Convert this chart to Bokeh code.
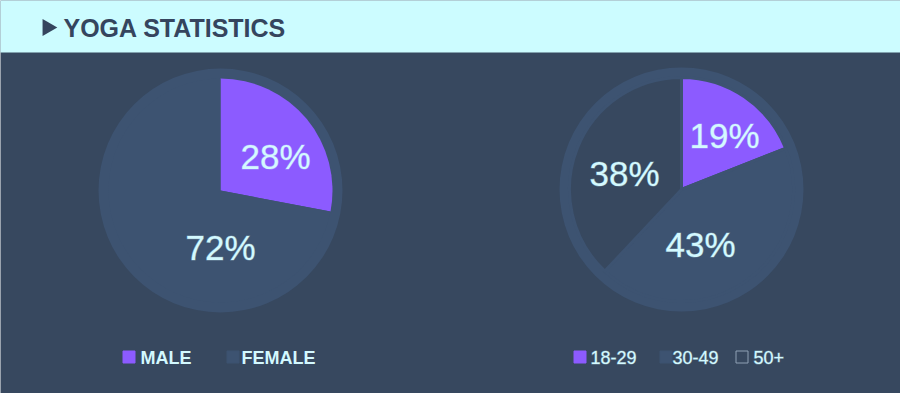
import math
from bokeh.plotting import figure
from bokeh.models import Range1d
from bokeh.core.properties import value
from bokeh.embed import file_html
from bokeh.resources import INLINE

# ---------------- data ----------------
title = "YOGA STATISTICS"
gender_labels = ["MALE", "FEMALE"]
gender_values = [28, 72]
age_labels = ["18-29", "30-49", "50+"]
age_values = [19, 43, 38]

# ---------------- style ----------------
W, H = 900, 393
BG = "#37485f"
RING = "#3d5371"
PURPLE = "#8c5bff"
HEADER = "#ccfcff"
TITLE_C = "#35455e"
TEXT_C = "#d3f9ff"
TEXT_HALO = "rgba(211,249,255,0.35)"
FONT = "Liberation Sans"

gender_colors = [PURPLE, RING]
age_colors = [PURPLE, RING, BG]
age_legend_lines = [PURPLE, RING, "#8fa0b5"]

p = figure(width=W, height=H, output_backend="svg", toolbar_location=None,
           x_range=Range1d(0, W), y_range=Range1d(0, H),
           x_axis_location=None, y_axis_location=None, min_border=0)
p.background_fill_color = BG
p.border_fill_color = BG
p.outline_line_color = None
p.outline_line_alpha = 0
p.grid.visible = False


def Y(py):
    return H - py


# header band
p.quad(left=[-5], right=[W + 5], bottom=[Y(52)], top=[H + 5], fill_color=HEADER, line_color=None)
p.scatter(x=[47], y=[Y(27)], marker="triangle", size=17, angle=-math.pi / 2,
          fill_color=TITLE_C, line_color=None)
p.text(x=[63], y=[Y(27.5)], text=[title], text_font=value(FONT), text_font_style="bold",
       text_font_size="25px", text_color=TITLE_C, text_align="left", text_baseline="middle")


def pie(cx, cy, values, colors, label_offsets, line_w):
    total = float(sum(values))
    # outer ring
    p.circle(x=[cx], y=[Y(cy)], radius=122, fill_color=RING, line_color=None)
    starts, ends = [], []
    cum = 0.0
    for v in values:
        starts.append(math.pi / 2 - 2 * math.pi * cum / total)
        cum += v
        ends.append(math.pi / 2 - 2 * math.pi * cum / total)
    p.wedge(x=[cx] * len(values), y=[Y(cy)] * len(values), radius=112,
            start_angle=starts, end_angle=ends, direction="clock",
            fill_color=colors, line_color=RING, line_width=line_w)
    p.text(x=[cx + dx for dx, dy in label_offsets], y=[Y(cy + dy) for dx, dy in label_offsets],
           text=["%d%%" % v for v in values], text_font=value(FONT), text_font_size="35px",
           text_color=TEXT_C, text_align="center", text_baseline="middle",
           text_outline_color=TEXT_HALO)


pie(220, 190, gender_values, gender_colors, [(55, -34), (0, 57)], 0)
pie(681, 189, age_values, age_colors, [(43, -54), (19, 55), (-57, -16)], 3)


def legend(sq_x, txt_x, cy, labels, fills, lines, style, halo):
    p.rect(x=sq_x, y=[Y(cy)] * len(labels), width=12, height=12,
           fill_color=fills, line_color=lines, line_width=1)
    p.text(x=txt_x, y=[Y(cy + 0.5)] * len(labels), text=labels, text_font=value(FONT),
           text_font_size="18px", text_font_style=style, text_color=TEXT_C,
           text_align="left", text_baseline="middle", text_outline_color=halo)


legend([128.5, 232.5], [140, 241], 356.5, gender_labels, gender_colors, gender_colors,
       "bold", None)
legend([579.5, 665.5, 741.5], [590, 672, 753], 356.5, age_labels, age_colors, age_legend_lines,
       "normal", TEXT_HALO)

html = file_html(p, INLINE)
html = html.replace("<body>", '<body style="margin:0;background:%s">' % BG, 1)
open("out.html", "w").write(html)
